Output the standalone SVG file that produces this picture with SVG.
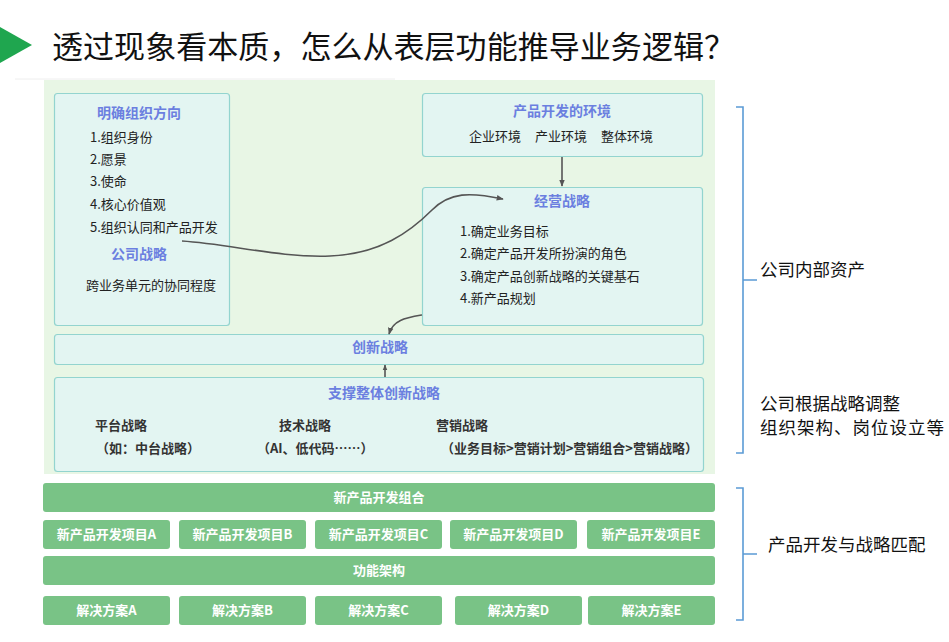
<svg xmlns="http://www.w3.org/2000/svg" width="949" height="642" viewBox="0 0 949 642">
<defs>
<style>
text{font-family:"Noto Sans CJK SC","Liberation Sans",sans-serif;}
.box{fill:#e3f5f2;stroke:#93d4cf;stroke-width:1.2;}
.h{fill:#6b7fe0;font-size:14px;font-weight:bold;text-anchor:middle;}
.t{fill:#222;font-size:13px;}
.tb{fill:#333;font-size:13px;font-weight:bold;}
.g{fill:#79c386;}
.gt{fill:#fff;font-size:13px;font-weight:bold;text-anchor:middle;}
.br{fill:none;stroke:#5b9bd5;stroke-width:1.6;}
.rt{fill:#111;font-size:17.5px;}
.ln{fill:none;stroke:#555;stroke-width:1.6;}
</style>
<marker id="ah" viewBox="0 0 10 10" refX="9" refY="5" markerWidth="7" markerHeight="7" orient="auto" markerUnits="userSpaceOnUse">
<path d="M0,1 L10,5 L0,9 Z" fill="#555"/>
</marker>
<marker id="ahs" viewBox="0 0 10 10" refX="9" refY="5" markerWidth="6" markerHeight="6" orient="auto" markerUnits="userSpaceOnUse">
<path d="M0,1 L10,5 L0,9 Z" fill="#555"/>
</marker>
</defs>
<rect width="949" height="642" fill="#fff"/>
<g id="title">
<polygon points="0,27 32,45 0,63" fill="#1fa64f"/>
<text x="52" y="58" font-size="31" fill="#111" textLength="683">透过现象看本质，怎么从表层功能推导业务逻辑？</text>
<line x1="15" y1="79" x2="395" y2="79" stroke="#eeeeee" stroke-width="1"/>
</g>
<rect id="panel" x="44" y="80" width="671" height="394" fill="#e8f6e5"/>
<g id="org">
<rect class="box" x="54.5" y="93.5" width="175" height="232" rx="3"/>
<text class="h" x="139" y="118">明确组织方向</text>
<text class="t" x="90" y="142">1.组织身份</text>
<text class="t" x="90" y="164">2.愿景</text>
<text class="t" x="90" y="186">3.使命</text>
<text class="t" x="90" y="209">4.核心价值观</text>
<text class="t" x="90" y="232">5.组织认同和产品开发</text>
<text class="h" x="139" y="259">公司战略</text>
<text class="t" x="151" y="290" text-anchor="middle">跨业务单元的协同程度</text>
</g>
<g id="env">
<rect class="box" x="422.5" y="93.5" width="280" height="63" rx="3"/>
<text class="h" x="562" y="116">产品开发的环境</text>
<text class="t" x="469" y="141">企业环境</text>
<text class="t" x="535" y="141">产业环境</text>
<text class="t" x="601" y="141">整体环境</text>
</g>
<g id="biz">
<rect class="box" x="422.5" y="187.5" width="280" height="138" rx="3"/>
<text class="h" x="562" y="206">经营战略</text>
<text class="t" x="460" y="236">1.确定业务目标</text>
<text class="t" x="460" y="258">2.确定产品开发所扮演的角色</text>
<text class="t" x="460" y="281">3.确定产品创新战略的关键基石</text>
<text class="t" x="460" y="303">4.新产品规划</text>
</g>
<g id="innov">
<rect class="box" x="54.5" y="334.5" width="649" height="30" rx="3"/>
<text class="h" x="380" y="352">创新战略</text>
</g>
<g id="support">
<rect class="box" x="54.5" y="377.5" width="649" height="94" rx="3"/>
<text class="h" x="384" y="398">支撑整体创新战略</text>
<text class="tb" x="95" y="430">平台战略</text>
<text class="tb" x="96" y="453">（如：中台战略）</text>
<text class="tb" x="279" y="430">技术战略</text>
<text class="tb" x="257" y="453">（AI、低代码……）</text>
<text class="tb" x="436" y="430">营销战略</text>
<text class="tb" x="441" y="453">（业务目标&gt;营销计划&gt;营销组合&gt;营销战略）</text>
</g>
<g id="connectors">
<path class="ln" d="M182,241 C230,244 280,258 330,256 C380,254 410,232 432,210 C450,192 470,192 503,199" marker-end="url(#ah)"/>
<line class="ln" x1="562" y1="157" x2="562" y2="186" marker-end="url(#ah)"/>
<path class="ln" d="M422,315 C405,318 393,320 389,334" marker-end="url(#ah)"/>
<line class="ln" x1="385" y1="377" x2="385" y2="365" stroke-width="1.3" marker-end="url(#ahs)"/>
</g>
<g id="portfolio">
<rect class="g" x="43" y="483" width="672" height="29" rx="3"/>
<text class="gt" x="379" y="502">新产品开发组合</text>
</g>
<g id="projects">
<rect class="g" x="43" y="520" width="127" height="29" rx="3"/><text class="gt" x="106.5" y="539">新产品开发项目A</text>
<rect class="g" x="179" y="520" width="127" height="29" rx="3"/><text class="gt" x="242.5" y="539">新产品开发项目B</text>
<rect class="g" x="315" y="520" width="127" height="29" rx="3"/><text class="gt" x="378.5" y="539">新产品开发项目C</text>
<rect class="g" x="450" y="520" width="127" height="29" rx="3"/><text class="gt" x="513.5" y="539">新产品开发项目D</text>
<rect class="g" x="587" y="520" width="128" height="29" rx="3"/><text class="gt" x="651" y="539">新产品开发项目E</text>
</g>
<g id="func">
<rect class="g" x="43" y="556" width="672" height="29" rx="3"/>
<text class="gt" x="379" y="575">功能架构</text>
</g>
<g id="solutions">
<rect class="g" x="43" y="596" width="127" height="29" rx="3"/><text class="gt" x="106.5" y="615">解决方案A</text>
<rect class="g" x="179" y="596" width="127" height="29" rx="3"/><text class="gt" x="242.5" y="615">解决方案B</text>
<rect class="g" x="315" y="596" width="127" height="29" rx="3"/><text class="gt" x="378.5" y="615">解决方案C</text>
<rect class="g" x="455" y="596" width="127" height="29" rx="3"/><text class="gt" x="518.5" y="615">解决方案D</text>
<rect class="g" x="588" y="596" width="127" height="29" rx="3"/><text class="gt" x="651.5" y="615">解决方案E</text>
</g>
<g id="bracket1">
<path class="br" d="M736,107 H743 V453 H736 M743,280 H757"/>
<text class="rt" x="760" y="276">公司内部资产</text>
<text class="rt" x="760" y="410" font-size="16.5">公司根据战略调整</text>
<text class="rt" x="760" y="434" font-size="16.5" textLength="184">组织架构、岗位设立等</text>
</g>
<g id="bracket2">
<path class="br" d="M736,488 H743 V620 H736 M743,554 H757"/>
<text class="rt" x="768" y="551">产品开发与战略匹配</text>
</g>
</svg>
